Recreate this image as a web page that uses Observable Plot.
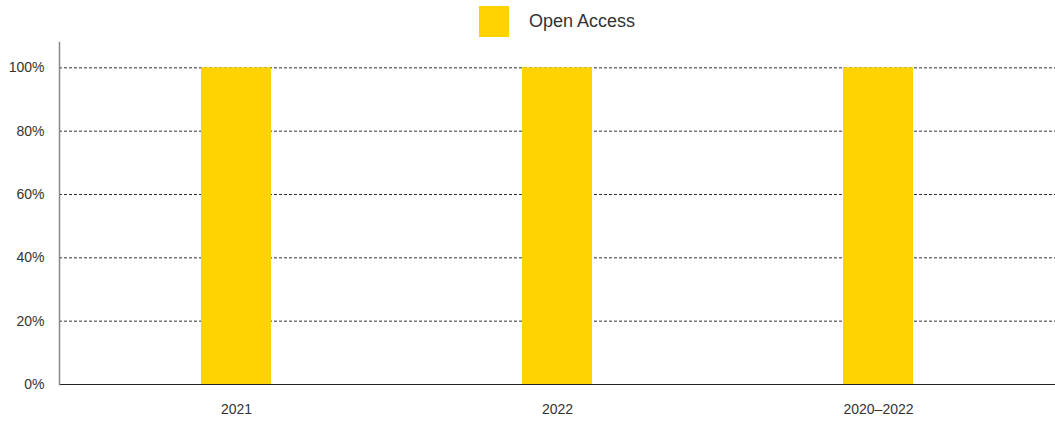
<!DOCTYPE html>
<html>
<head>
<meta charset="utf-8">
<script src="https://cdn.jsdelivr.net/npm/d3@7"></script>
<script src="https://cdn.jsdelivr.net/npm/@observablehq/plot@0.6"></script>
<style>
  html, body { margin: 0; padding: 0; background: #fff; }
  #wrap { position: relative; width: 1055px; height: 421px; font-family: "Liberation Sans", Arial, sans-serif; }
  #legend { position: absolute; left: 479px; top: 6px; display: flex; align-items: center; }
  #legend .sw { width: 30px; height: 31px; background: #FFD200; }
  #legend .lb { margin-left: 20px; font-size: 18px; color: #333; }
  #chart { position: absolute; left: 0; top: 0; }
</style>
</head>
<body>
<div id="wrap">
  <div id="chart"></div>
  <div id="legend"><div class="sw"></div><div class="lb">Open Access</div></div>
</div>
<script>
const categories = ["2021", "2022", "2020–2022"];
const openAccess = [1.0, 1.0, 1.0];
const yTicks = [0, 0.2, 0.4, 0.6, 0.8, 1.0];
const seriesName = "Open Access";
const barColor = "#FFD200";

const data = categories.map((c, i) => ({category: c, value: openAccess[i], series: seriesName}));

const chart = Plot.plot({
  width: 1055,
  height: 421,
  marginLeft: 59,
  marginRight: 0,
  marginTop: 42,
  marginBottom: 37,
  style: {fontFamily: "Liberation Sans, Arial, sans-serif", fontSize: "14px", color: "#333", background: "#fff"},
  x: {domain: categories, paddingInner: 0.7823, paddingOuter: 0.44, label: null},
  y: {domain: [0, 1.08], label: null},
  marks: [
    Plot.ruleY(yTicks.filter(d => d > 0), {stroke: "#333", strokeDasharray: "3,2", strokeWidth: 1}),
    Plot.barY(data, {x: "category", y: "value", fill: barColor}),
    Plot.ruleY([0], {stroke: "#222", strokeWidth: 1.2}),
    Plot.frame({anchor: "left", stroke: "#888", strokeWidth: 1.5}),
    Plot.axisY({ticks: yTicks, tickFormat: d => Math.round(d * 100) + "%", tickSize: 0, tickPadding: 15, label: null, fontSize: 14}),
    Plot.axisX({tickSize: 0, tickPadding: 20, label: null, fontSize: 14})
  ]
});
document.getElementById("chart").appendChild(chart);
</script>
</body>
</html>
